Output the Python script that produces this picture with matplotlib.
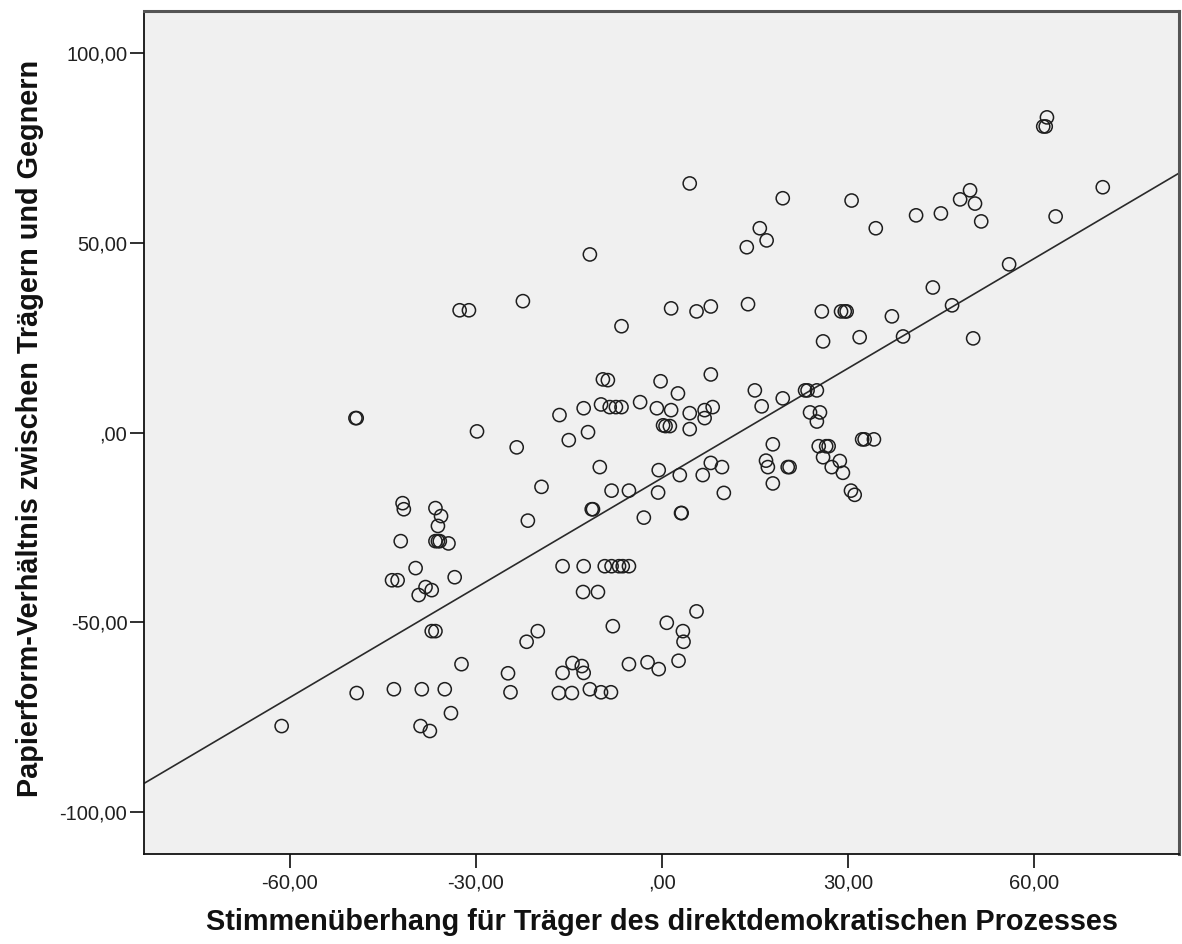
import matplotlib.pyplot as plt
import numpy as np

# Stimmenüberhang (x) and Papierform-Verhältnis (y)
x_vals = [62.1, 61.5, 61.9, 71.1, 63.5, 49.7, 50.5, 48.1, 51.5, 41.0,
          45.0, 30.6, 19.5, 56.0, 43.7, 46.8, 37.1, 38.9, 50.2, 34.5,
          31.9, 4.5, 15.8, 16.9, 13.7, -11.6, 13.9, 7.9, 1.5, 5.6,
          -6.5, -32.6, -31.1, -22.4, 25.8, 28.9, 29.5, 29.8, 26.0, 15.0,
          23.1, 23.5, 25.0, 19.5, 7.9, 2.6, -9.5, -8.7, -0.2, -9.8,
          -3.5, -12.6, -8.4, -7.4, -6.5, -0.8, 8.2, 1.5, 6.9, 4.5,
          16.1, 23.9, 25.5, 25.0, 6.9, 0.2, 0.6, 1.3, 4.5, -16.5,
          -15.0, -11.9, -29.8, -23.4, -49.4, -49.2, -19.4, -21.6, -10.0, -8.1,
          -5.3, -2.9, -0.6, -0.5, 2.9, 3.1, 3.2, 6.6, 7.9, 9.7,
          10.0, -11.3, -11.1, 16.8, 17.1, 17.9, 17.9, 20.6, 20.3, 25.3,
          26.5, 26.9, 26.0, 27.4, 28.7, 29.2, 32.3, 32.7, 34.2, 30.5,
          31.1, -41.8, -41.6, -36.5, -36.1, -35.6, -42.1, -36.5, -36.1, -35.8,
          -34.4, -39.7, -33.4, -43.5, -42.6, -39.2, -38.1, -37.1, -37.1, -36.5,
          -32.3, -35.0, -38.7, -43.2, -49.2, -38.9, -37.4, -34.0, -61.3, -21.8,
          -20.0, -24.8, -24.4, -16.0, -12.6, -9.2, -8.1, -6.9, -6.3, -5.3,
          -12.7, -10.3, -7.9, -14.4, -12.9, -12.6, -16.0, -16.6, -14.5, -11.6,
          -9.8, -8.2, -5.3, -2.3, -0.5, 0.8, 3.4, 3.5, 2.7, 5.6]
y_vals = [83.0, 80.6, 80.6, 64.6, 56.9, 63.8, 60.3, 61.4, 55.6, 57.2,
          57.7, 61.1, 61.7, 44.3, 38.2, 33.5, 30.6, 25.3, 24.8, 53.8,
          25.1, 65.6, 53.8, 50.6, 48.8, 46.9, 33.8, 33.2, 32.7, 31.9,
          28.0, 32.2, 32.2, 34.6, 31.9, 31.9, 31.9, 31.9, 24.0, 11.1,
          11.1, 11.1, 11.1, 9.0, 15.3, 10.3, 14.0, 13.8, 13.5, 7.4,
          8.0, 6.4, 6.7, 6.7, 6.7, 6.4, 6.7, 5.9, 5.9, 5.1,
          6.9, 5.3, 5.3, 2.9, 3.8, 1.9, 1.7, 1.7, 0.9, 4.6,
          -2.0, 0.1, 0.3, -3.9, 3.8, 3.8, -14.3, -23.2, -9.1, -15.3,
          -15.3, -22.4, -15.8, -9.9, -11.2, -21.2, -21.2, -11.2, -8.0, -9.1,
          -15.9, -20.2, -20.2, -7.4, -9.1, -3.1, -13.4, -9.1, -9.1, -3.6,
          -3.6, -3.6, -6.5, -9.1, -7.5, -10.6, -1.8, -1.8, -1.8, -15.3,
          -16.4, -18.6, -20.2, -19.9, -24.6, -22.0, -28.6, -28.6, -28.6, -28.6,
          -29.2, -35.7, -38.1, -38.9, -38.9, -42.8, -40.7, -41.5, -52.3, -52.3,
          -61.0, -67.6, -67.6, -67.6, -68.6, -77.3, -78.6, -73.9, -77.3, -55.1,
          -52.3, -63.4, -68.4, -35.2, -35.2, -35.2, -35.2, -35.2, -35.2, -35.2,
          -42.0, -42.0, -51.0, -60.7, -61.5, -63.3, -63.3, -68.6, -68.6, -67.6,
          -68.4, -68.4, -61.0, -60.5, -62.3, -50.1, -52.3, -55.1, -60.1, -47.1]

# fit line (intercept, slope) as drawn in the original
fit_intercept = -12.0
fit_slope = 0.963

x_ticks = [-60, -30, 0, 30, 60]
x_tick_labels = ["-60,00", "-30,00", ",00", "30,00", "60,00"]
y_ticks = [-100, -50, 0, 50, 100]
y_tick_labels = ["-100,00", "-50,00", ",00", "50,00", "100,00"]

x_title = "Stimmenüberhang für Träger des direktdemokratischen Prozesses"
y_title = "Papierform-Verhältnis zwischen Trägern und Gegnern"

plt.rcParams['font.family'] = ['Liberation Sans', 'DejaVu Sans']

fig = plt.figure(figsize=(11.82, 9.44), dpi=100)
ax = fig.add_axes([0.1218, 0.0953, 0.8757, 0.8930])
ax.set_facecolor("#f0f0f0")

x_lo, x_hi = -83.5, 83.4
ax.set_xlim(x_lo, x_hi)
ax.set_ylim(-111, 111)

line_x = np.array([x_lo, x_hi])
ax.plot(line_x, fit_intercept + fit_slope * line_x, color="#2a2a2a", lw=1.2, zorder=2)

ax.scatter(x_vals, y_vals, s=90, facecolors="none", edgecolors="#1e1e1e",
           linewidths=1.1, zorder=3)

ax.set_xticks(x_ticks)
ax.set_xticklabels(x_tick_labels)
ax.set_yticks(y_ticks)
ax.set_yticklabels(y_tick_labels)
ax.tick_params(axis="both", direction="out", length=10, width=1.3,
               labelsize=14.5, colors="#202020")
ax.tick_params(axis="x", pad=4)
ax.tick_params(axis="y", pad=2)

for side in ["left", "bottom"]:
    ax.spines[side].set_color("#111111")
    ax.spines[side].set_linewidth(1.3)
for side in ["top", "right"]:
    ax.spines[side].set_color("#555555")
    ax.spines[side].set_linewidth(2.2)

label_font = dict(family=['Liberation Sans Narrow', 'Liberation Sans', 'DejaVu Sans'],
                  fontweight="bold", fontsize=20.8, color="#111111", va="center")
ax.set_xlabel(x_title, **label_font)
ax.set_ylabel(y_title, **label_font)
ax.xaxis.set_label_coords(0.5005, -0.081)
ax.yaxis.set_label_coords(-0.110, 0.505)

plt.savefig("out.png", dpi=100)
